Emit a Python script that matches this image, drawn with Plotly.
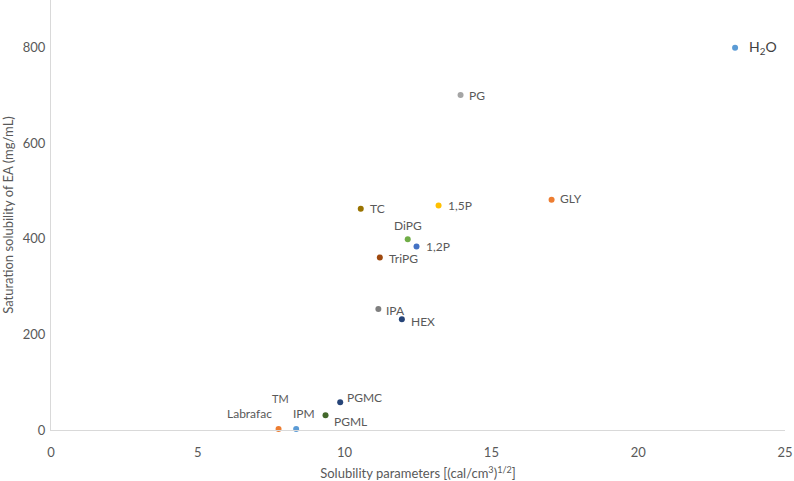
import plotly.graph_objects as go

names = ["H2O", "PG", "GLY", "1,5P", "TC", "DiPG", "1,2P", "TriPG", "IPA", "HEX", "PGMC", "PGML", "IPM", "Labrafac"]
labels = ["H<sub>2</sub>O", "PG", "GLY", "1,5P", "TC", "DiPG", "1,2P", "TriPG", "IPA", "HEX", "PGMC", "PGML", "IPM", "Labrafac"]
solubility_param = [23.3, 13.95, 17.05, 13.2, 10.55, 12.15, 12.45, 11.2, 11.15, 11.95, 9.85, 9.35, 8.35, 7.75]
saturation = [800, 701, 482, 470, 463, 399, 384, 361, 253, 232, 58, 31, 2, 2]
colors = ["#5B9BD5", "#A5A5A5", "#ED7D31", "#FFC000", "#997300", "#70AD47", "#4472C4",
          "#9E480E", "#7F7F7F", "#264478", "#264478", "#43682B", "#5B9BD5", "#ED7D31"]

x_ticks = [0, 5, 10, 15, 20, 25]
y_ticks = [0, 200, 400, 600, 800]

# label placement (pixel offsets from marker, anchor)
label_pos = {
    "H2O": (12, 0, "left", 14, "#404040"),
    "PG": (6, 0, "left", 12, "#595959"),
    "GLY": (6, 1, "left", 12, "#595959"),
    "1,5P": (7, 0, "left", 12, "#595959"),
    "TC": (7, 0, "left", 12, "#595959"),
    "DiPG": (0, 14, "center", 12, "#595959"),
    "1,2P": (7, 0, "left", 12, "#595959"),
    "TriPG": (7, -1, "left", 12, "#595959"),
    "IPA": (6, -1, "left", 12, "#595959"),
    "HEX": (7, -2, "left", 12, "#595959"),
    "PGMC": (5, 5, "left", 12, "#595959"),
    "PGML": (6, -6, "left", 12, "#595959"),
    "IPM": (8, 16, "center", 12, "#595959"),
    "Labrafac": (-5, 16, "right", 12, "#595959"),
}

FONT = "Lato, Noto Sans, sans-serif"

fig = go.Figure()
fig.add_trace(go.Scatter(
    x=solubility_param, y=saturation, mode="markers",
    marker=dict(size=6, color=colors),
    hovertext=names, showlegend=False, cliponaxis=False,
))

annotations = []
for n, lab, xv, yv in zip(names, labels, solubility_param, saturation):
    dx, dy, anc, fs, col = label_pos[n]
    annotations.append(dict(
        x=xv, y=yv, xref="x", yref="y", text=lab, showarrow=False,
        xanchor=anc, yanchor="middle", xshift=dx, yshift=dy,
        font=dict(size=fs, color=col, family=FONT),
    ))
# superscript TM for Labrafac
annotations.append(dict(
    x=solubility_param[-1], y=saturation[-1], xref="x", yref="y", text="TM",
    showarrow=False, xanchor="center", yanchor="middle", xshift=2, yshift=31,
    font=dict(size=11, color="#595959", family=FONT),
))

fig.update_layout(
    width=794, height=481,
    margin=dict(l=51, r=9, t=0, b=51),
    paper_bgcolor="white", plot_bgcolor="white",
    font=dict(family=FONT, color="#595959", size=13),
    annotations=annotations,
    xaxis=dict(
        range=[0, 25], tickvals=x_ticks, ticktext=[str(v) for v in x_ticks],
        showgrid=False, zeroline=False, showline=True, linecolor="#D9D9D9", linewidth=1,
        ticks="", tickfont=dict(size=13, color="#595959"), ticklabelstandoff=10,
        automargin=False,
        title=dict(text="Solubility parameters [(cal/cm<sup>3</sup>)<sup>1/2</sup>]",
                   font=dict(size=13, color="#595959"), standoff=11),
    ),
    yaxis=dict(
        range=[0, 900], tickvals=y_ticks, ticktext=[str(v) for v in y_ticks],
        showgrid=False, zeroline=False, showline=True, linecolor="#D9D9D9", linewidth=1,
        ticks="", tickfont=dict(size=13, color="#595959"), ticklabelstandoff=2,
        automargin=False,
        title=dict(text="Saturation solubility of EA (mg/mL)",
                   font=dict(size=13, color="#595959"), standoff=12),
    ),
)

fig.write_html("out.html", config={"displayModeBar": False},
               post_script="document.body.style.margin='0';")
